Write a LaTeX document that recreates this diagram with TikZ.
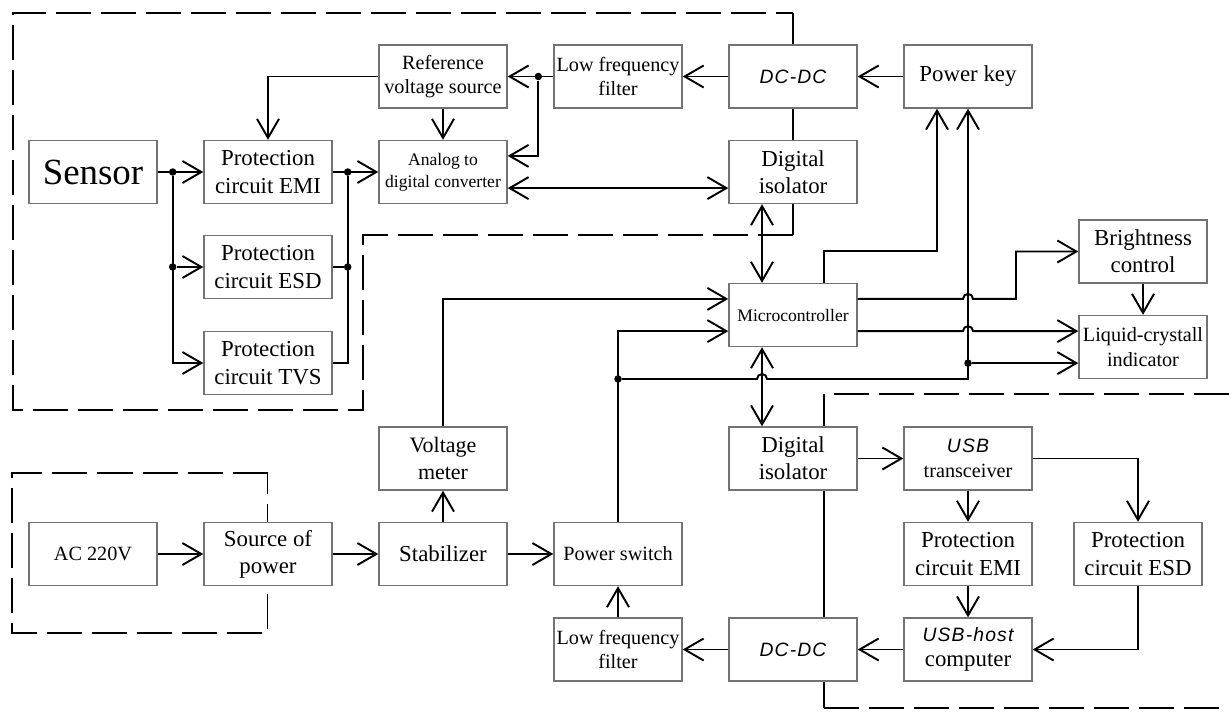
\documentclass[tikz,border=0pt]{standalone}
\usepackage{fontspec}
\setmainfont{Liberation Serif}
\newfontfamily\gostfont[LetterSpace=6]{Liberation Sans}
\usepackage{tikz}
\usetikzlibrary{arrows.meta,positioning,calc}
\newcommand{\gost}[1]{{\fontsize{11}{13}\gostfont\itshape #1}}
\tikzset{
  box/.style={draw=black!55, line width=0.8pt, fill=white, minimum width=25.6mm, minimum height=12.6mm, inner sep=0.5pt, align=center, font=\fontsize{13}{15.5}\selectfont},
  midbox/.style={box, font=\fontsize{11.5}{14}\selectfont},
  smallbox/.style={box, font=\fontsize{10}{12.5}\selectfont},
  wire/.style={line width=1.1pt},
  arrow/.style={wire, -{Straight Barb[length=3.8mm,width=4.4mm]}},
  dblarrow/.style={wire, {Straight Barb[length=3.8mm,width=4.4mm]}-{Straight Barb[length=3.8mm,width=4.4mm]}},
  dot/.style={circle, fill=black, minimum size=1.5mm, inner sep=0pt},
  region/.style={line width=1.1pt, dash pattern=on 7mm off 2mm}
}

\begin{document}
\begin{tikzpicture}[x=0.2mm, y=-0.2mm]
\useasboundingbox (0,0) rectangle (1229,711);

% isolated zones
\draw[region] (793,235) -- (363,235) -- (363,410) -- (13,410) -- (13,13) -- (793,13);
\draw[wire] (793,13) -- (793,235);
\draw[region] (267.5,473) -- (12,473) -- (12,633) -- (267.5,633) -- cycle;
\draw[region] (1229,394) -- (824,394);
\draw[wire] (824,394) -- (824,708);
\draw[region] (824,708) -- (1229,708);

% measuring side
\node[box, font=\fontsize{21}{24}\selectfont] (sensor) at (93,172) {Sensor};
\node[box] (pemi1) at (268,172) {Protection\\circuit EMI};
\node[box] (pesd1) at (268,267) {Protection\\circuit ESD};
\node[box] (ptvs) at (268,363) {Protection\\circuit TVS};
\node[midbox] (refv) at (443,76.5) {Reference\\voltage source};
\node[smallbox] (adc) at (443,172) {Analog to\\digital converter};
\node[midbox] (lff1) at (618,76.5) {Low frequency\\filter};
\node[box] (dcdc1) at (793,76.5) {\gost{DC-DC}};
\node[box] (diso1) at (793,172) {Digital\\isolator};
\node[box] (pkey) at (968,76.5) {Power key};

% control
\node[smallbox] (mcu) at (793,315) {Microcontroller};
\node[box] (bright) at (1143,251.5) {Brightness\\control};
\node[midbox] (lcd) at (1143,347) {Liquid-crystall\\indicator};

% power supply
\node[box, font=\fontsize{12.5}{15}\selectfont] (volt) at (443,458.5) {Voltage\\meter};
\node[midbox] (ac) at (93,554) {AC 220V};
\node[box] (src) at (268,554) {Source of\\power};
\node[box] (stab) at (443,554) {Stabilizer};
\node[midbox] (psw) at (618,554) {Power switch};
\node[midbox] (lff2) at (618,649.5) {Low frequency\\filter};

% usb side
\node[box] (diso2) at (793,458.5) {Digital\\isolator};
\node[box] (dcdc2) at (793,649.5) {\gost{DC-DC}};
\node[midbox] (usbt) at (968,458.5) {\gost{USB}\\transceiver};
\node[box] (pemi2) at (968,554) {Protection\\circuit EMI};
\node[box] (pesd2) at (1138,554) {Protection\\circuit ESD};
\node[box] (host) at (968,649.5) {\gost{USB-host}\\[-1pt]computer};

% junctions
\coordinate (busy) at (0,379);
\coordinate (lcdin3) at ($(lcd.west)!0.5!(lcd.south west)$);
\node[dot] (jin) at ($(sensor.east)+(15,0)$) {};
\node[dot] (jesd) at (jin |- pesd1) {};
\node[dot] (jout) at ($(pemi1.east)+(15,0)$) {};
\node[dot] (jesdo) at (jout |- pesd1) {};
\node[dot] (jref) at ($(lff1.west)+(-15,0)$) {};
\node[dot] (jbus) at (psw.north |- busy) {};
\node[dot] (jlcd) at (pkey.south |- lcdin3) {};

% signal path
\draw[arrow] (sensor) -- (pemi1);
\draw[arrow] (jin) |- (ptvs.west);
\draw[arrow] (jesd) -- (pesd1);
\draw[arrow] (pemi1) -- (adc);
\draw[wire] (ptvs.east) -| (jout);
\draw[wire] (pesd1) -- (jesdo);
\draw[arrow] (refv.west) -| (pemi1.north);
\draw[arrow] (refv) -- (adc);
\draw[arrow] (lff1) -- (refv);
\draw[arrow] (jref) |- ($(adc.east)!0.5!(adc.north east)$);
\draw[arrow] (dcdc1) -- (lff1);
\draw[arrow] (pkey) -- (dcdc1);
\draw[dblarrow] ($(adc.east)!0.5!(adc.south east)$) -- ($(diso1.west)!0.5!(diso1.south west)$);
\draw[dblarrow] ($(diso1.south)+(-31,0)$) -- ($(mcu.north)+(-31,0)$);
\draw[dblarrow] ($(mcu.south)+(-31,0)$) -- ($(diso2.north)+(-31,0)$);

% microcontroller
\draw[arrow] (volt) |- ($(mcu.west)!0.5!(mcu.north west)$);
\draw[arrow] (psw) |- ($(mcu.west)!0.5!(mcu.south west)$);
\draw[arrow] (jbus) -- ($(jbus -| mcu.south)+(-36,0)$) arc (180:360:5) -- (jbus -| pkey.south) -- (pkey.south);
\draw[arrow] (jlcd) -- (lcdin3);
\draw[arrow] ($(mcu.north)+(31,0)$) -- ++(0,-32) -| ($(pkey.south)+(-31,0)$);
\coordinate (mcuo1) at ($(mcu.east)!0.5!(mcu.north east)$);
\coordinate (mcuo2) at ($(mcu.east)!0.5!(mcu.south east)$);
\draw[arrow] (mcuo1) -- ($(mcuo1 -| pkey.south)+(-5,0)$) arc (180:360:5) -- ++(43,0) |- (bright.west);
\draw[arrow] (mcuo2) -- ($(mcuo2 -| pkey.south)+(-5,0)$) arc (180:360:5) -- (mcuo2 -| lcd.west);
\draw[arrow] (bright) -- (lcd);

% power path
\draw[arrow] (ac) -- (src);
\draw[arrow] (src) -- (stab);
\draw[arrow] (stab) -- (psw);
\draw[arrow] (stab) -- (volt);
\draw[arrow] (lff2) -- (psw);
\draw[arrow] (dcdc2) -- (lff2);

% usb path
\draw[arrow] (diso2) -- (usbt);
\draw[arrow] (usbt) -- (pemi2);
\draw[arrow] (usbt.east) -| (pesd2.north);
\draw[arrow] (pemi2) -- (host);
\draw[arrow] (pesd2.south) |- (host.east);
\draw[arrow] (host) -- (dcdc2);
\end{tikzpicture}
\end{document}
